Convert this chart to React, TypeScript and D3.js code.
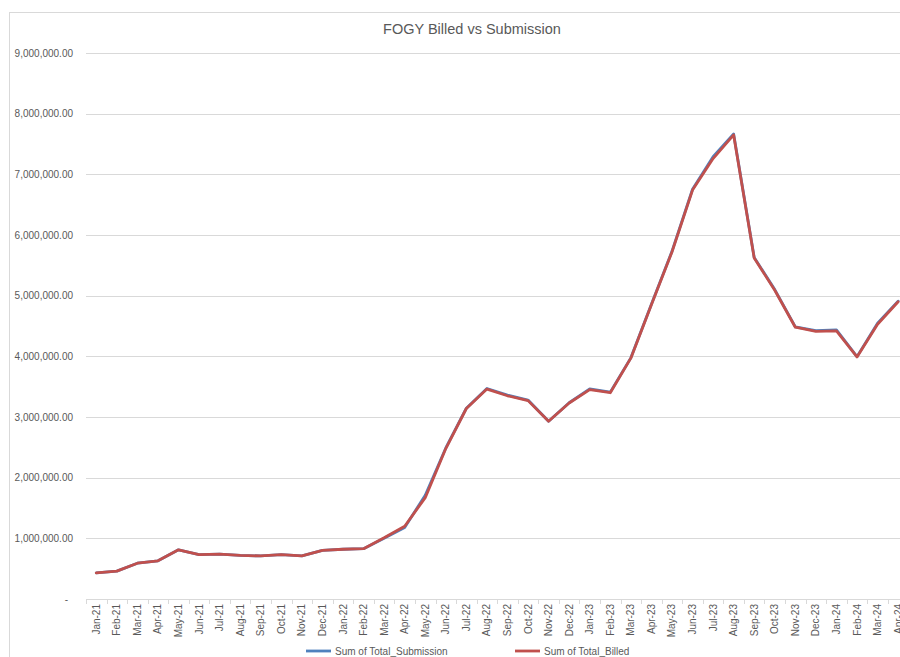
import React from "react";
import * as d3 from "d3";

const months = [
  "Jan-21","Feb-21","Mar-21","Apr-21","May-21","Jun-21","Jul-21","Aug-21","Sep-21","Oct-21","Nov-21","Dec-21",
  "Jan-22","Feb-22","Mar-22","Apr-22","May-22","Jun-22","Jul-22","Aug-22","Sep-22","Oct-22","Nov-22","Dec-22",
  "Jan-23","Feb-23","Mar-23","Apr-23","May-23","Jun-23","Jul-23","Aug-23","Sep-23","Oct-23","Nov-23","Dec-23",
  "Jan-24","Feb-24","Mar-24","Apr-24",
];

const billed = [
  430000, 460000, 590000, 630000, 810000, 730000, 740000, 720000, 710000, 730000, 710000, 800000,
  820000, 830000, 1010000, 1200000, 1670000, 2480000, 3140000, 3460000, 3350000, 3270000, 2930000, 3230000,
  3450000, 3400000, 3970000, 4850000, 5720000, 6740000, 7260000, 7650000, 5620000, 5090000, 4480000, 4410000,
  4420000, 3990000, 4530000, 4900000,
];

const submission = [
  430000, 460000, 590000, 630000, 810000, 730000, 740000, 720000, 710000, 730000, 710000, 800000,
  820000, 830000, 1000000, 1180000, 1710000, 2490000, 3145000, 3470000, 3360000, 3280000, 2930000, 3235000,
  3465000, 3410000, 3975000, 4860000, 5730000, 6755000, 7290000, 7665000, 5630000, 5100000, 4485000, 4425000,
  4435000, 3995000, 4545000, 4910000,
];

const yTicks = [0, 1000000, 2000000, 3000000, 4000000, 5000000, 6000000, 7000000, 8000000, 9000000];

const seriesNames = ["Sum of Total_Submission", "Sum of Total_Billed"];

const W = 900;
const H = 657;
const plotLeft = 86;
const band = 20.56;
const plotTop = 53;
const plotBottom = 599;

export default function App() {
  const x = d3
    .scaleBand<string>()
    .domain(months)
    .range([plotLeft, plotLeft + band * months.length])
    .padding(0);
  const y = d3.scaleLinear().domain([0, 9000000]).range([plotBottom, plotTop]);
  const fmt = d3.format(",.2f");
  const cx = (i: number) => (x(months[i]) as number) + band / 2;

  const line = d3
    .line<number>()
    .x((_, i) => cx(i))
    .y((d) => y(d));

  const font = "'Liberation Sans', Arial, sans-serif";
  const textColor = "#595959";
  const grid = "#d9d9d9";
  const blue = "#4f81bd";
  const red = "#c0504d";

  return (
    <svg
      width={W}
      height={H}
      style={{ position: "absolute", left: 0, top: 0, background: "#fff" }}
      fontFamily={font}
    >
      <rect x={9.5} y={12.5} width={1200} height={1200} fill="#fff" stroke={grid} strokeWidth={1} />
      <text x={472} y={34} textAnchor="middle" fontSize={14.5} fill={textColor}>
        FOGY Billed vs Submission
      </text>
      {yTicks.map((t) => (
        <g key={t}>
          {t !== 0 && (
            <line x1={plotLeft} x2={W + 20} y1={Math.round(y(t)) + 0.5} y2={Math.round(y(t)) + 0.5} stroke={grid} strokeWidth={1} />
          )}
          <text
            x={t === 0 ? 68 : 73}
            y={y(t) + 3.5}
            textAnchor="end"
            fontSize={10}
            fill={textColor}
          >
            {t === 0 ? "-" : fmt(t)}
          </text>
        </g>
      ))}
      <line x1={plotLeft} x2={W + 20} y1={plotBottom + 0.5} y2={plotBottom + 0.5} stroke={grid} strokeWidth={1} />
      {months.map((m) => (
        <line
          key={"tk" + m}
          x1={Math.round(x(m) as number) + 0.5}
          x2={Math.round(x(m) as number) + 0.5}
          y1={plotBottom}
          y2={plotBottom + 5}
          stroke={grid}
          strokeWidth={1}
        />
      ))}
      {months.map((m, i) => (
        <text
          key={"lb" + m}
          transform={`translate(${cx(i) + 3.5},${plotBottom + 5}) rotate(-90)`}
          textAnchor="end"
          fontSize={10}
          fill={textColor}
        >
          {m}
        </text>
      ))}
      <path d={line(submission) || ""} fill="none" stroke={blue} strokeWidth={2.8} strokeLinejoin="round" strokeLinecap="round" />
      <path d={line(billed) || ""} fill="none" stroke={red} strokeWidth={2.8} strokeLinejoin="round" strokeLinecap="round" />
      <line x1={306} x2={331} y1={651} y2={651} stroke={blue} strokeWidth={2.8} />
      <text x={335} y={654.5} fontSize={10} fill={textColor}>
        {seriesNames[0]}
      </text>
      <line x1={515} x2={540} y1={651} y2={651} stroke={red} strokeWidth={2.8} />
      <text x={544} y={654.5} fontSize={10} fill={textColor}>
        {seriesNames[1]}
      </text>
    </svg>
  );
}
